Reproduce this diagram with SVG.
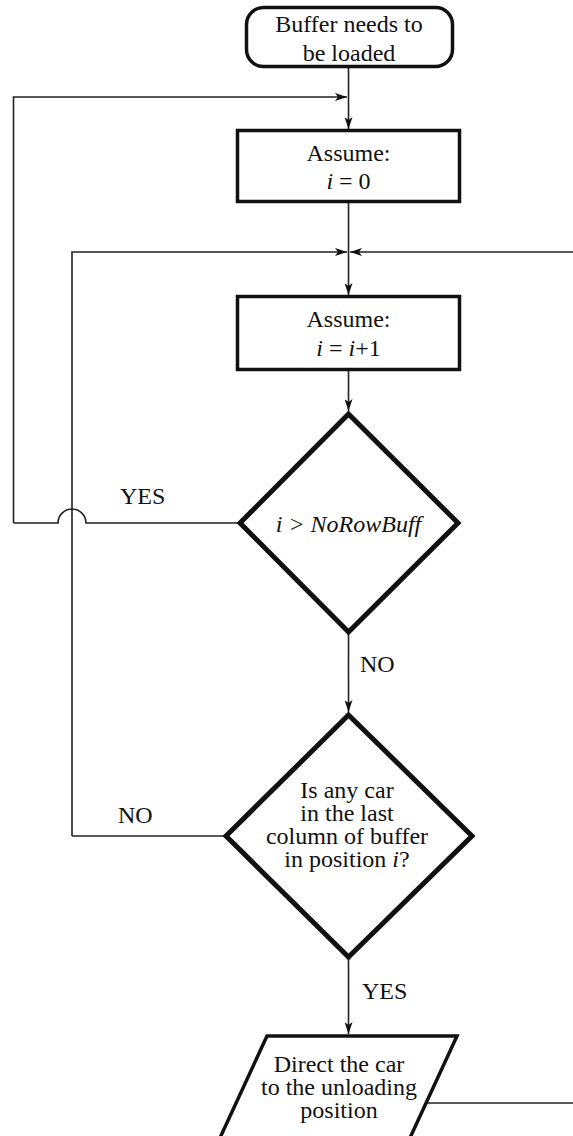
<svg xmlns="http://www.w3.org/2000/svg" width="573" height="1136" viewBox="0 0 573 1136">
<style>
text{font-family:"Liberation Serif","Times New Roman",serif;font-size:24px;fill:#111;text-anchor:middle}
.lbl{text-anchor:start}
.it{font-style:italic}
.node{fill:#fff;stroke:#111;stroke-width:3.5}
.dia{fill:#fff;stroke:#111;stroke-width:5;stroke-linejoin:miter}
.con{fill:none;stroke:#222;stroke-width:1.6}
</style>
<defs>
<marker id="ah" viewBox="0 0 12 8" refX="12" refY="4" markerWidth="12" markerHeight="8" markerUnits="userSpaceOnUse" orient="auto">
<path d="M0,0 L12,4 L0,8 L3,4 z" fill="#111"/>
</marker>
</defs>
<g id="connectors">
<path class="con" d="M348.5,67 V129" marker-end="url(#ah)"/>
<path class="con" d="M13.5,523 V97 H347" marker-end="url(#ah)"/>
<path class="con" d="M348.5,202 V295" marker-end="url(#ah)"/>
<path class="con" d="M72,836 V252 H347" marker-end="url(#ah)"/>
<path class="con" d="M573,252 H350" marker-end="url(#ah)"/>
<path class="con" d="M348.5,370 V411" marker-end="url(#ah)"/>
<path class="con" d="M240,523 H86 A14,14 0 0 0 58,523 H13.5"/>
<path class="con" d="M348.5,632 V712" marker-end="url(#ah)"/>
<path class="con" d="M225,836 H72"/>
<path class="con" d="M348.5,958 V1034" marker-end="url(#ah)"/>
<path class="con" d="M426,1103 H573"/>
</g>
<g id="start">
<rect class="node" x="246.5" y="7.5" width="206" height="59" rx="17"/>
<text x="349" y="32">Buffer needs to<tspan x="349" dy="29">be loaded</tspan></text>
</g>
<g id="assume0">
<rect class="node" x="237.5" y="130.5" width="222" height="71"/>
<text x="348.5" y="161">Assume:<tspan x="348.5" dy="28"><tspan class="it">i</tspan> = 0</tspan></text>
</g>
<g id="assume1">
<rect class="node" x="237.5" y="296.5" width="222" height="73"/>
<text x="348.5" y="327">Assume:<tspan x="348.5" dy="29"><tspan class="it">i</tspan> = <tspan class="it">i</tspan>+1</tspan></text>
</g>
<g id="decision1">
<polygon class="dia" points="348.5,414 458,523 348.5,632 240,523"/>
<text class="it" x="348.5" y="532">i &gt; NoRowBuff</text>
</g>
<g id="decision2">
<polygon class="dia" points="348.5,715 472,836 348.5,957 226,836"/>
<text x="347" y="798">Is any car<tspan x="347" dy="23">in the last</tspan><tspan x="347" dy="23">column of buffer</tspan><tspan x="347" dy="23">in position <tspan class="it">i</tspan>?</tspan></text>
</g>
<g id="direct">
<polygon class="node" points="267,1036 457,1036 409,1140 219,1140"/>
<text x="339" y="1072">Direct the car<tspan x="339" dy="23">to the unloading</tspan><tspan x="339" dy="23">position</tspan></text>
</g>
<g id="labels">
<text class="lbl" x="120" y="504">YES</text>
<text class="lbl" x="360" y="672">NO</text>
<text class="lbl" x="118" y="823">NO</text>
<text class="lbl" x="362" y="999">YES</text>
</g>
</svg>
